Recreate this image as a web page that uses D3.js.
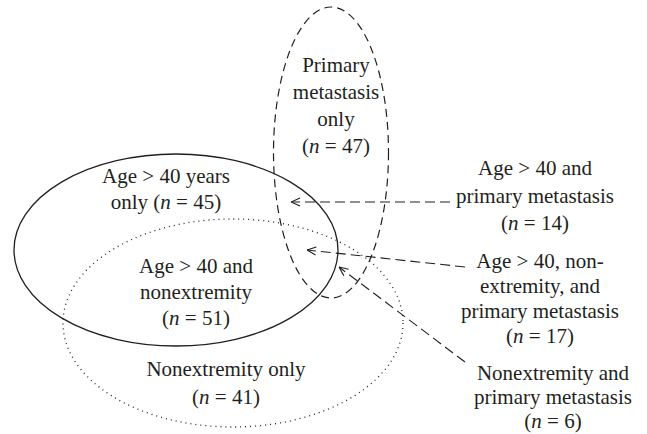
<html>
<head>
  <script src="https://d3js.org/d3.v7.min.js"></script>
  <style>
    body { margin: 0; background: #fff; }
    text { font-family: "Liberation Serif", "Times New Roman", serif; font-size: 21px; fill: #231f20; }
  </style>
</head>
<body>
<script>
// region labels and counts
var regionLines = [
  ["Primary", "metastasis", "only"],
  ["Age > 40 years"],
  ["Age > 40 and", "nonextremity"],
  ["Nonextremity only"],
  ["Age > 40 and", "primary metastasis"],
  ["Age > 40, non-", "extremity, and", "primary metastasis"],
  ["Nonextremity and", "primary metastasis"]
];
var regionCounts = [47, 45, 51, 41, 14, 17, 6];
var countPrefix = ["", "only ", "", "", "", "", ""];

// layout (pixel geometry of the hand-drawn diagram)
var width = 647, height = 434;
var sets = [
  {name: "age", cx: 176, cy: 250, rx: 162, ry: 96, dash: null, sw: 1.3},
  {name: "nonext", cx: 233, cy: 323, rx: 170, ry: 104, dash: "1,4", sw: 1.3},
  {name: "meta", cx: 331, cy: 152.5, rx: 57.5, ry: 145.5, dash: "8,5", sw: 1.2}
];
var labelPos = [
  {x: 336, y: 72, lh: 27},
  {x: 166, y: 183, lh: 26},
  {x: 196, y: 273, lh: 26},
  {x: 226, y: 376, lh: 28},
  {x: 535, y: 175, lh: 27.5},
  {x: 540, y: 268, lh: 25},
  {x: 553, y: 380, lh: 24}
];
// arrows: from label (x1,y1) to tip (x2,y2); index into labels
var arrows = [
  {label: 4, x1: 450, y1: 202, x2: 291, y2: 202},
  {label: 5, x1: 465, y1: 267, x2: 307, y2: 250},
  {label: 6, x1: 465, y1: 362, x2: 339, y2: 267}
];

var svg = d3.select("body").append("svg")
  .attr("width", width)
  .attr("height", height);

svg.append("defs").append("marker")
  .attr("id", "head")
  .attr("viewBox", "0 0 10 10")
  .attr("refX", 10).attr("refY", 5)
  .attr("markerWidth", 10).attr("markerHeight", 10)
  .attr("markerUnits", "userSpaceOnUse")
  .attr("orient", "auto")
  .append("path")
  .attr("d", "M1,1 L10,5 L1,9")
  .attr("fill", "none")
  .attr("stroke", "#231f20")
  .attr("stroke-width", 1.1);

svg.selectAll("ellipse")
  .data(sets)
  .enter()
  .append("ellipse")
  .attr("cx", d => d.cx)
  .attr("cy", d => d.cy)
  .attr("rx", d => d.rx)
  .attr("ry", d => d.ry)
  .attr("fill", "none")
  .attr("stroke", "#231f20")
  .attr("stroke-width", d => d.sw)
  .attr("stroke-dasharray", d => d.dash);

svg.selectAll("line.arrow")
  .data(arrows)
  .enter()
  .append("line")
  .attr("class", "arrow")
  .attr("x1", d => d.x1).attr("y1", d => d.y1)
  .attr("x2", d => d.x2).attr("y2", d => d.y2)
  .attr("stroke", "#231f20")
  .attr("stroke-width", 1.1)
  .attr("stroke-dasharray", "10,5")
  .attr("marker-end", "url(#head)");

// labels: text lines plus a count line with italic n
regionLines.forEach(function(lines, i) {
  var p = labelPos[i];
  var t = svg.append("text").attr("text-anchor", "middle");
  lines.forEach(function(s, k) {
    if (k === 0 && i === 1) return;
    t.append("tspan").attr("x", p.x).attr("y", p.y + k * p.lh).text(s);
  });
  if (i === 1) {
    t.append("tspan").attr("x", p.x).attr("y", p.y).text(lines[0]);
  }
  var cy = p.y + lines.length * p.lh;
  var c = t.append("tspan").attr("x", p.x).attr("y", cy);
  c.append("tspan").text(countPrefix[i] + "(");
  c.append("tspan").attr("font-style", "italic").text("n");
  c.append("tspan").text(" = " + regionCounts[i] + ")");
});
</script>
</body>
</html>
